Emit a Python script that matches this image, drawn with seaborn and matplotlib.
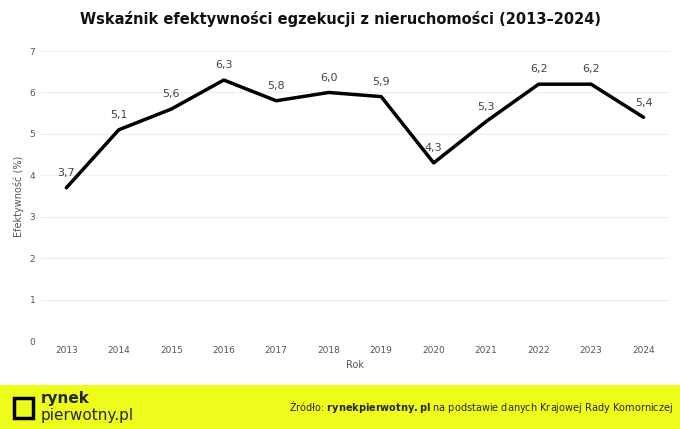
import matplotlib
matplotlib.use("Agg")
import matplotlib.pyplot as plt
import seaborn as sns
import pandas as pd

years = [2013, 2014, 2015, 2016, 2017, 2018, 2019, 2020, 2021, 2022, 2023, 2024]
values = [3.7, 5.1, 5.6, 6.3, 5.8, 6.0, 5.9, 4.3, 5.3, 6.2, 6.2, 5.4]
labels = ["3,7", "5,1", "5,6", "6,3", "5,8", "6,0", "5,9", "4,3", "5,3", "6,2", "6,2", "5,4"]

plt.rcParams["font.family"] = "Open Sans"
sns.set_style("white")

df = pd.DataFrame({"Rok": years, "val": values})

fig = plt.figure(figsize=(6.8, 4.29), dpi=100)
ax = fig.add_axes([0.059, 0.205, 0.926, 0.676])
sns.lineplot(data=df, x="Rok", y="val", color="black", linewidth=2.5, ax=ax)
for x, y, t in zip(years, values, labels):
    ax.annotate(t, (x, y), xytext=(0, 7), textcoords="offset points",
                ha="center", va="bottom", fontsize=8, color="#444444")

ax.set_xlim(2012.5, 2024.5)
ax.set_ylim(0, 7)
ax.set_xticks(years)
ax.set_yticks(range(8))
ax.tick_params(labelsize=6.5, colors="#555555", length=0)
ax.grid(axis="y", color="#eeeeee", linewidth=0.8)
for s in ax.spines.values():
    s.set_visible(False)
ax.set_xlabel("Rok", fontsize=7, color="#555555")
ax.set_ylabel("Efektywność (%)", fontsize=7, color="#555555")

fig.text(0.5, 0.955, "Wskaźnik efektywności egzekucji z nieruchomości (2013–2024)",
         ha="center", va="center", fontsize=10.5, fontweight="heavy", color="#111111")

# footer band
fax = fig.add_axes([0, 0, 1, 0.103])
fax.set_facecolor("#eefc1c")
fax.set_xticks([])
fax.set_yticks([])
for s in fax.spines.values():
    s.set_visible(False)
fax.add_patch(plt.Rectangle((0.02, 0.25), 0.028, 0.45, fill=False, linewidth=2.5,
                            edgecolor="black", transform=fax.transAxes))
fax.text(0.06, 0.68, "rynek", fontsize=11, fontweight="bold", va="center", transform=fax.transAxes)
fax.text(0.06, 0.3, "pierwotny.pl", fontsize=11, va="center", transform=fax.transAxes)
fax.text(0.99, 0.5, "Źródło: $\\bf{rynekpierwotny.pl}$ na podstawie danych Krajowej Rady Komorniczej",
         fontsize=7, ha="right", va="center", transform=fax.transAxes)

fig.savefig("out.png", dpi=100, facecolor="white")
